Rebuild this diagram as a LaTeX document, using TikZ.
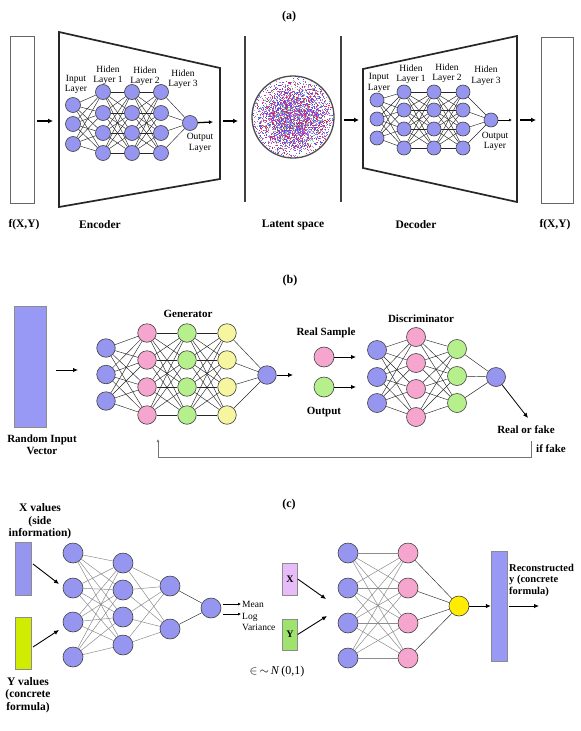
\documentclass[tikz,border=0pt]{standalone}
\usepackage{fontspec}
\setmainfont{Liberation Serif}
\usetikzlibrary{arrows.meta,calc}
\definecolor{nblue}{RGB}{150,150,240}
\definecolor{npink}{RGB}{246,166,206}
\definecolor{ngreen}{RGB}{182,240,140}
\definecolor{nyellow}{RGB}{246,246,160}
\definecolor{cyel}{RGB}{255,236,0}
\definecolor{limey}{RGB}{208,236,0}
\definecolor{xbox}{RGB}{232,188,248}
\definecolor{ybox}{RGB}{160,226,110}
\definecolor{rectblue}{RGB}{152,152,245}
\definecolor{dred}{RGB}{225,40,70}
\definecolor{dblue}{RGB}{80,80,235}
\definecolor{dviol}{RGB}{160,100,235}
\definecolor{dgreen}{RGB}{130,215,140}
\definecolor{dmag}{RGB}{215,90,200}
\definecolor{dlblue}{RGB}{150,160,255}
\pgfmathdeclarerandomlist{dotcols}{{dred}{dblue}{dviol}{dgreen}{dmag}{dlblue}{dred}{dblue}{dviol}}
\begin{document}
\begin{tikzpicture}[x=1pt,y=-1pt,
  neu/.style={circle,draw=black!75,line width=0.6pt,inner sep=0pt,minimum size=#1},
  lk/.style={black!85,line width=0.45pt},
  lkg/.style={black!45,line width=0.5pt},
  bigarr/.style={-{Latex[length=5pt,width=5pt]},line width=1.6pt},
  smarr/.style={-{Latex[length=4pt,width=4pt]},line width=1.3pt},
  arr/.style={-{Latex[length=5pt,width=4.5pt]},line width=0.9pt},
  tarr/.style={-{Latex[length=3pt,width=3pt]},line width=0.6pt},
  lblA/.style={font=\fontsize{9.5}{10.5}\selectfont,align=center,inner sep=0pt},
  capA/.style={font=\fontsize{11.5}{13}\selectfont\bfseries,inner sep=0pt},
  capB/.style={font=\fontsize{11}{12}\selectfont\bfseries,align=center,inner sep=0pt},
  capC/.style={font=\fontsize{11.5}{12.5}\selectfont\bfseries,align=center,inner sep=0pt},
  panel/.style={font=\fontsize{12}{14}\selectfont\bfseries,inner sep=0pt}
]
\useasboundingbox (0,0) rectangle (581,731);

% ================= (a) =================
\node[panel] (pa) at (289,17) {(a)};
\node[draw=black!60,line width=1pt,fill=white,minimum width=24pt,minimum height=167pt,inner sep=0pt] (fl) at (22,119.5) {};
\node[draw=black!60,line width=1pt,fill=white,minimum width=32pt,minimum height=166pt,inner sep=0pt] (fr) at (557,120) {};
% encoder frame
\draw[line width=1.7pt,black!85] (59,32) -- (220,68) -- (220,179) -- (59,207) -- cycle;
% decoder frame
\draw[line width=1.7pt,black!85] (363,69) -- (517,36) -- (517,202) -- (363,168) -- cycle;
% latent separators
\draw[line width=1.3pt,black!75] (245,36) -- (245,202);
\draw[line width=1.3pt,black!75] (341,36) -- (341,202);
% latent circle with dots
\begin{scope}
\clip (293,117) circle[radius=40pt];
\pgfmathsetseed{11}
\foreach \k in {1,...,4200}{
  \pgfmathsetmacro{\dx}{(rand+rand+rand)*19}
  \pgfmathsetmacro{\dy}{(rand+rand+rand)*17}
  \pgfmathrandomitem{\cc}{dotcols}
  \fill[\cc] (293+\dx,117+\dy) rectangle ++(0.9,0.9);
}
\end{scope}
\node[circle,draw=black!70,line width=1.3pt,minimum size=82pt,inner sep=0pt] (lat) at (293,117) {};

% encoder network
\foreach \y [count=\i] in {105,124,144} \node[neu=15pt,fill=nblue] (ea\i) at (73,\y) {};
\foreach \x/\L in {103/b,132/c,161/d}
  \foreach \y [count=\i] in {92,113,133,153} \node[neu=15pt,fill=nblue] (e\L\i) at (\x,\y) {};
\node[neu=15pt,fill=nblue] (eo) at (190,123) {};
\foreach \i in {1,2,3} \foreach \j in {1,...,4} \draw[lk] (ea\i) -- (eb\j);
\foreach \i in {1,...,4} \foreach \j in {1,...,4} {\draw[lk] (eb\i) -- (ec\j); \draw[lk] (ec\i) -- (ed\j);}
\foreach \i in {1,...,4} \draw[lk] (ed\i) -- (eo);
\node[lblA] (eli) at (76,84.5) {Input\\Layer};
\node[lblA] (el1) at (108,75) {Hiden\\Layer 1};
\node[lblA] (el2) at (145,76) {Hiden\\Layer 2};
\node[lblA] (el3) at (183,79) {Hiden\\Layer 3};
\node[lblA] (elo) at (200,143) {Output\\Layer};

% decoder network
\foreach \y [count=\i] in {100,119,138} \node[neu=14pt,fill=nblue] (da\i) at (377,\y) {};
\foreach \x/\L in {404/b,434/c,463/d}
  \foreach \y [count=\i] in {92,110,129,148} \node[neu=14pt,fill=nblue] (d\L\i) at (\x,\y) {};
\node[neu=14pt,fill=nblue] (dout) at (491,120) {};
\foreach \i in {1,2,3} \foreach \j in {1,...,4} \draw[lk] (da\i) -- (db\j);
\foreach \i in {1,...,4} \foreach \j in {1,...,4} {\draw[lk] (db\i) -- (dc\j); \draw[lk] (dc\i) -- (dd\j);}
\foreach \i in {1,...,4} \draw[lk] (dd\i) -- (dout);
\node[lblA] (dli) at (379,83) {Input\\Layer};
\node[lblA] (dl1) at (411,74) {Hiden\\Layer 1};
\node[lblA] (dl2) at (447,73) {Hiden\\Layer 2};
\node[lblA] (dl3) at (486,75.5) {Hiden\\Layer 3};
\node[lblA] (dlo) at (495,141.5) {Output\\Layer};

% arrows (a)
\coordinate (a1s) at (37,121); \coordinate (a1e) at (53,121);
\coordinate (eoe) at (213,122);
\coordinate (a2s) at (223,121); \coordinate (a2e) at (238,121);
\coordinate (a3s) at (344,120); \coordinate (a3e) at (359,120);
\coordinate (doe) at (512,120);
\coordinate (a4s) at (520,120); \coordinate (a4e) at (536,120);
\draw[bigarr] (a1s) -- (a1e);
\draw[smarr] (eo) -- (eoe);
\draw[bigarr] (a2s) -- (a2e);
\draw[bigarr] (a3s) -- (a3e);
\draw[tarr,line width=1pt] (dout) -- (doe);
\draw[bigarr] (a4s) -- (a4e);

% captions (a)
\node[capA] (cf1) at (24,225) {f(X,Y)};
\node[capA] (cenc) at (100,225) {Encoder};
\node[capA] (clat) at (293,225) {Latent space};
\node[capA] (cdec) at (416,225) {Decoder};
\node[capA] (cf2) at (555,225) {f(X,Y)};

% ================= (b) =================
\node[panel] (pb) at (290,281) {(b)};
\node[draw=black!45,fill=rectblue,minimum width=32pt,minimum height=121pt,inner sep=0pt] (riv) at (30,366.5) {};
\node[capB] (rivl) at (42,445) {Random Input\\Vector};
\coordinate (b1s) at (56,370); \coordinate (b1e) at (78,370);
\draw[arr] (b1s) -- (b1e);
\node[capB] (gen) at (188,314) {Generator};
\foreach \y [count=\i] in {348,374.5,401} \node[neu=18.5pt,fill=nblue] (ga\i) at (106,\y) {};
\foreach \x/\L/\C in {147/b/npink,187/c/ngreen,227/d/nyellow}
  \foreach \y [count=\i] in {333,360,387,415} \node[neu=18.5pt,fill=\C] (g\L\i) at (\x,\y) {};
\node[neu=18.5pt,fill=nblue] (gout) at (267,375) {};
\foreach \i in {1,2,3} \foreach \j in {1,...,4} \draw[lk] (ga\i) -- (gb\j);
\foreach \i in {1,...,4} \foreach \j in {1,...,4} {\draw[lk] (gb\i) -- (gc\j); \draw[lk] (gc\i) -- (gd\j);}
\foreach \i in {1,...,4} \draw[lk] (gd\i) -- (gout);
\coordinate (goe) at (293,375);
\draw[arr] (gout) -- (goe);

\node[capB] (rsl) at (326,333) {Real Sample};
\node[neu=20pt,fill=npink] (rs) at (324,357) {};
\node[neu=20pt,fill=ngreen] (os) at (324,387) {};
\node[capB] (osl) at (324,412) {Output};
\coordinate (rse) at (356,357); \coordinate (ose) at (356,387);
\draw[arr] (rs) -- (rse);
\draw[arr] (os) -- (ose);

\node[capB] (disl) at (421,319) {Discriminator};
\foreach \y [count=\i] in {350,377,403} \node[neu=19pt,fill=nblue] (qa\i) at (377,\y) {};
\foreach \y [count=\i] in {337,363,389,417} \node[neu=19pt,fill=npink] (qb\i) at (416,\y) {};
\foreach \y [count=\i] in {349,376,403} \node[neu=19pt,fill=ngreen] (qc\i) at (457,\y) {};
\node[neu=19pt,fill=nblue] (qout) at (496,377) {};
\foreach \i in {1,2,3} \foreach \j in {1,...,4} {\draw[lk] (qa\i) -- (qb\j); \draw[lk] (qb\j) -- (qc\i);}
\foreach \i in {1,2,3} \draw[lk] (qc\i) -- (qout);
\coordinate (rfe) at (528,418);
\draw[arr,line width=0.8pt] (qout) -- (rfe);
\node[capB] (rfl) at (526,430) {Real or fake};
\node[capB,anchor=west] (iff) at (536,449) {if fake};
\coordinate (fb1) at (531,441); \coordinate (fb3) at (158,457); \coordinate (fb4) at (158,439);
\draw[black!55,line width=0.9pt,-{Latex[length=3pt,width=3pt]}] (fb1) |- (fb3) -- (fb4);

% ================= (c) =================
\node[panel] (pc) at (289,505) {(c)};
\node[capC] (xvl) at (40,521.5) {X values\\(side\\information)};
\node[capC] (yvl) at (28,695) {Y values\\(concrete\\formula)};
\node[draw=black!45,fill=nblue,minimum width=16pt,minimum height=53pt,inner sep=0pt] (xr) at (23,568.5) {};
\node[draw=black!45,fill=limey,minimum width=16pt,minimum height=52pt,inner sep=0pt] (yr) at (23,643) {};
\coordinate (xrs) at (33,564); \coordinate (xre) at (59,584);
\coordinate (yrs) at (33,647); \coordinate (yre) at (59,630);
\draw[arr] (xrs) -- (xre);
\draw[arr] (yrs) -- (yre);
\foreach \y [count=\i] in {553,588,622,657} \node[neu=20pt,fill=nblue] (ca\i) at (73,\y) {};
\foreach \y [count=\i] in {563,590,617,645} \node[neu=20pt,fill=nblue] (cb\i) at (123,\y) {};
\foreach \y [count=\i] in {586,629} \node[neu=20pt,fill=nblue] (cc\i) at (170,\y) {};
\node[neu=20pt,fill=nblue] (cd) at (211,608) {};
\foreach \i in {1,...,4} \foreach \j in {1,...,4} \draw[lkg] (ca\i) -- (cb\j);
\foreach \i in {1,...,4} \foreach \j in {1,2} \draw[lkg] (cb\i) -- (cc\j);
\foreach \j in {1,2} \draw[lk] (cc\j) -- (cd);
\coordinate (m1s) at (223,604); \coordinate (m1e) at (241,604);
\coordinate (m2s) at (223,614); \coordinate (m2e) at (241,614);
\draw[tarr] (m1s) -- (m1e);
\draw[tarr] (m2s) -- (m2e);
\node[font=\fontsize{9.5}{11.5}\selectfont,align=left,anchor=west,inner sep=0pt] (mlv) at (242,616) {Mean\\Log\\Variance};
\node[font=\fontsize{12}{13}\selectfont,inner sep=0pt] (eps) at (277,672) {$\in$\,$\sim$\,\textit{N}\,(0,1)};

\node[draw=black!45,fill=xbox,minimum width=15pt,minimum height=32pt,inner sep=0pt,font=\fontsize{10}{11}\selectfont\bfseries] (xb) at (290,579) {X};
\node[draw=black!45,fill=ybox,minimum width=15pt,minimum height=31pt,inner sep=0pt,font=\fontsize{10}{11}\selectfont\bfseries] (yb) at (290,634.5) {Y};
\coordinate (xbe) at (326,599); \coordinate (ybe) at (327,616);
\draw[arr] (xb.east) -- (xbe);
\draw[arr] (yb.east) -- (ybe);
\foreach \y [count=\i] in {553,588,623,658} \node[neu=20pt,fill=nblue] (ra\i) at (348,\y) {};
\foreach \y [count=\i] in {553,588,623,658} \node[neu=20pt,fill=npink] (rb\i) at (408,\y) {};
\node[neu=20pt,fill=cyel] (ry) at (459,606) {};
\foreach \i in {1,...,4} \foreach \j in {1,...,4} \draw[lkg] (ra\i) -- (rb\j);
\foreach \i in {1,...,4} \draw[lk] (rb\i) -- (ry);
\node[draw=black!45,fill=rectblue,minimum width=16pt,minimum height=110pt,inner sep=0pt] (rec) at (499,606) {};
\draw[arr] (ry) -- (rec);
\coordinate (rcs) at (509,606); \coordinate (rce) at (539,606);
\draw[arr] (rcs) -- (rce);
\node[font=\fontsize{10.5}{11.5}\selectfont\bfseries,align=left,anchor=west,inner sep=0pt] (recl) at (509,580) {Reconstructed\\y (concrete\\formula)};
\end{tikzpicture}
\end{document}
